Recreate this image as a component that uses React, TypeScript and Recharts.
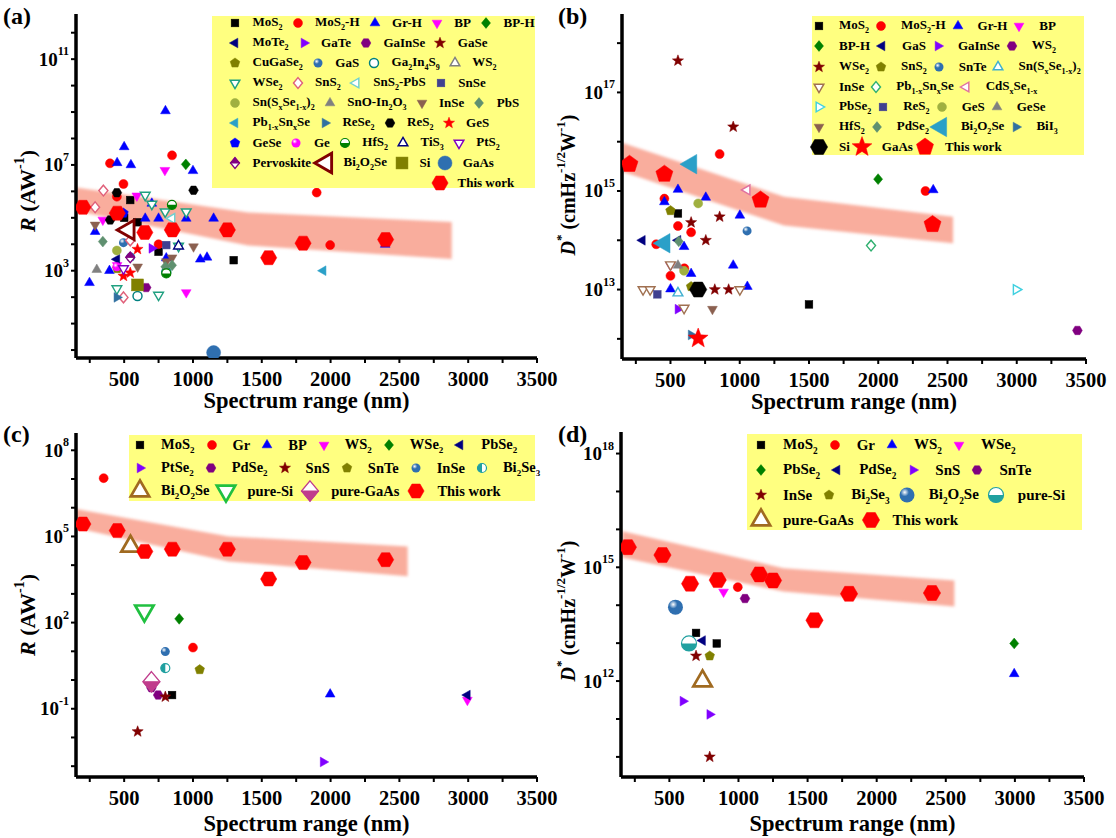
import React from "react";
import { ComposedChart, Scatter, Area, XAxis, YAxis } from "recharts";

type P = [number, number];

const FONT = '"Liberation Serif", "Times New Roman", Times, serif';
const YELLOW = "#ffff80";
const BAND = "#f4694c";

// shared x axis (nm)
const X_DOMAIN = [150, 3500];
const X_TICKS = [250, 500, 750, 1000, 1250, 1500, 1750, 2000, 2250, 2500, 2750, 3000, 3250, 3500];

// ---------- (a) responsivity R, all materials ----------
const A_Y_TICKS = [1, 10, 1e2, 1e3, 1e4, 1e5, 1e6, 1e7, 1e8, 1e9, 1e10, 1e11, 1e12];
const A_Y_LABELS = [3, 7, 11];
const A_BAND_X = [150, 1400, 2880];
const A_BAND_LO = [1.8e5, 9e3, 2.8e3];
const A_BAND_HI = [1.4e6, 1.6e5, 7e4];

const A_THIS: P[] = [[200, 2.5e5], [450, 1.5e5], [650, 2.8e4], [850, 3.5e4], [1250, 3.5e4], [1550, 3.1e3], [1800, 1.1e4], [2400, 1.5e4]];
const A_MOS2: P[] = [[544, 4.7e5], [500, 1e5], [597, 6.8e4], [750, 5.2e3], [1296, 2.5e3]];
const A_MOS2H: P[] = [[397, 1.15e7], [495, 1.9e6], [447, 6.3e5], [848, 2.3e7], [1899, 9e5], [1997, 9.3e3], [750, 1e4]];
const A_GRH: P[] = [[800, 1.1e9], [500, 4.8e7], [449, 1.2e7], [549, 1e7], [1000, 6e6], [701, 3.5e5], [653, 9.5e4], [750, 9.5e4], [951, 9.5e4], [1150, 9.5e4], [289, 3e4], [393, 1e3], [248, 3.5e2], [806, 3e3], [1053, 2.7e3], [1102, 3.2e3], [2397, 9.8e3]];
const A_BP: P[] = [[796, 6.3e6], [592, 6.8e5], [345, 8.3e4], [951, 1.5e2], [449, 1.6e3]];
const A_BPH: P[] = [[948, 1.05e7]];
const A_MOTE2: P[] = [[447, 2.7e3]];
const A_GATE: P[] = [[701, 7e3]];
const A_GAINSE: P[] = [[660, 2.3e2]];
const A_GASE: P[] = [];
const A_CUGASE2: P[] = [[450, 1.2e3]];
const A_GAS: P[] = [[495, 1.15e4], [547, 3.3e3]];
const A_GA2IN4S9: P[] = [[597, 1.1e2], [806, 9e2]];
const A_WS2: P[] = [];
const A_WSE2: P[] = [[653, 7.2e5], [701, 3.3e5], [798, 1.7e5], [951, 1.7e5], [447, 2.1e2], [750, 1.2e2], [895, 8.5e3]];
const A_SNS2: P[] = [[349, 1.07e6], [289, 2.5e5], [544, 1.4e4], [495, 98]];
const A_SNS2PBS: P[] = [[847, 9.5e4]];
const A_SNSE: P[] = [[806, 9.3e3]];
const A_SNSSE: P[] = [[447, 5.8e3], [848, 3e5]];
const A_SNOIN2O3: P[] = [[301, 1.1e3]];
const A_INSE: P[] = [[289, 5.4e4], [1004, 8.1e3], [598, 1.4e3], [848, 3.1e3], [806, 2.2e3]];
const A_PBS: P[] = [[345, 1.26e4], [799, 1.4e3], [848, 1.6e3]];
const A_PBSNSE: P[] = [[1946, 1e3]];
const A_RESE2: P[] = [[447, 98]];
const A_RES2: P[] = [[447, 8.9e5], [1004, 1.1e6], [398, 8.3e4]];
const A_GES: P[] = [[597, 6.5e3], [495, 6.3e2], [544, 8.3e2]];
const A_GESE: P[] = [[495, 1.5e5]];
const A_GE: P[] = [[447, 1.4e3]];
const A_HFS2: P[] = [[847, 3.1e5], [806, 7.9e2]];
const A_TIS3: P[] = [[895, 8.5e3]];
const A_PTS2: P[] = [[495, 1.2e3]];
const A_PERV: P[] = [[544, 3.2e3]];
const A_BI2O2SE: P[] = [[531, 3.5e4]];
const A_SI: P[] = [[597, 2.9e2]];
const A_GAAS: P[] = [[1150, 0.8]];

// ---------- (b) detectivity D*, all materials ----------
const B_Y_TICKS = [1e12, 1e13, 1e14, 1e15, 1e16, 1e17, 1e18];
const B_Y_LABELS = [13, 15, 17];
const B_BAND_X = [150, 1320, 2540];
const B_BAND_LO = [2.5e15, 2e14, 8.7e13];
const B_BAND_HI = [9.5e15, 7.6e14, 3e14];

const B_THIS: P[] = [[204, 3.5e15], [456, 2.2e15], [1150, 6.6e14], [2392, 2.1e14]];
const B_MOS2: P[] = [[554, 3.5e14], [1500, 5e12]];
const B_MOS2H: P[] = [[855, 5.6e15], [2341, 1e15], [456, 7e14], [554, 1.95e14], [649, 1.45e14], [397, 8.3e13], [500, 1.9e13], [600, 2.7e13]];
const B_GRH: P[] = [[554, 1.07e15], [456, 6e14], [755, 7.4e14], [1001, 3.2e14], [2397, 1.05e15], [598, 7.4e13], [649, 2.1e13], [500, 1.02e13], [953, 3.1e13], [1055, 1.15e13]];
const B_BP: P[] = [[500, 3.1e13]];
const B_BPH: P[] = [[1999, 1.74e15]];
const B_GAS: P[] = [[297, 1e14], [554, 1e14]];
const B_GAINSE: P[] = [[554, 4e12]];
const B_WS2: P[] = [[3438, 1.48e12]];
const B_WSE2: P[] = [[554, 4.4e17], [953, 2e16], [855, 3e14], [649, 2.3e14], [755, 1e14], [820, 1e13], [920, 1e13]];
const B_SNS2: P[] = [[500, 4e14], [649, 1.15e13]];
const B_SNTE: P[] = [[1053, 1.55e14]];
const B_SNSSE: P[] = [[554, 8.5e12]];
const B_INSE: P[] = [[302, 1e13], [353, 1e13], [500, 3.2e13], [598, 4.2e12], [1001, 1e13]];
const B_PBSNSE: P[] = [[1948, 7.8e13]];
const B_CDSSE: P[] = [[1053, 1.05e15]];
const B_PBSE2: P[] = [[2996, 1e13]];
const B_RES2: P[] = [[405, 8e12]];
const B_GES: P[] = [[700, 5.6e14], [598, 2.4e13]];
const B_GESE: P[] = [[554, 3.1e13]];
const B_HFS2: P[] = [[803, 4e12]];
const B_PDSE2: P[] = [[560, 9.5e13]];
const B_BI2O2SE: P[] = [[649, 3.5e15], [456, 8.7e13]];
const B_BII3: P[] = [[649, 1.2e12]];
const B_SI: P[] = [[700, 1e13]];
const B_GAAS: P[] = [[700, 1.02e12]];

// ---------- (c) responsivity R, broadband materials ----------
const C_Y_TICKS = [1e-3, 1e-2, 0.1, 1, 10, 1e2, 1e3, 1e4, 1e5, 1e6, 1e7, 1e8];
const C_Y_LABELS = [-1, 2, 5, 8];
const C_BAND_X = [150, 1260, 2560];
const C_BAND_LO = [1.95e5, 1.35e4, 4.1e3];
const C_BAND_HI = [9.1e5, 1e5, 4.5e4];

const C_THIS: P[] = [[200, 2.7e5], [450, 1.6e5], [650, 3e4], [850, 3.6e4], [1250, 3.6e4], [1550, 3.3e3], [1800, 1.23e4], [2400, 1.55e4]];
const C_MOS2: P[] = [[848, 0.3]];
const C_GR: P[] = [[351, 1.07e7], [1000, 13.5]];
const C_BP: P[] = [[1997, 0.32]];
const C_WS2: P[] = [[2994, 0.2]];
const C_WSE2: P[] = [[900, 135]];
const C_PBSE2: P[] = [[2994, 0.3]];
const C_PTSE2: P[] = [[1946, 1.4e-3]];
const C_PDSE2: P[] = [[747, 0.3], [698, 0.54]];
const C_SNS: P[] = [[799, 0.26], [598, 0.016]];
const C_SNTE: P[] = [[1049, 2.3]];
const C_INSE: P[] = [[799, 9.8]];
const C_BI2SE3: P[] = [[799, 2.6]];
const C_BI2O2SE: P[] = [[546, 4.5e4]];
const C_PURESI: P[] = [[647, 257]];
const C_PUREGAAS: P[] = [[698, 0.87]];

// ---------- (d) detectivity D*, broadband materials ----------
const D_Y_TICKS = [1e10, 1e11, 1e12, 1e13, 1e14, 1e15, 1e16, 1e17, 1e18];
const D_Y_LABELS = [12, 15, 18];
const D_BAND_X = [160, 1325, 2562];
const D_BAND_LO = [1.8e15, 2.3e14, 9.3e13];
const D_BAND_HI = [8.9e15, 9.5e14, 4.5e14];

const D_THIS: P[] = [[200, 3.4e15], [450, 2.1e15], [650, 3.7e14], [850, 4.6e14], [1150, 6.5e14], [1250, 4.5e14], [1550, 4e13], [1800, 2e14], [2400, 2.1e14]];
const D_MOS2: P[] = [[693, 1.86e13], [843, 9.8e12]];
const D_GR: P[] = [[995, 3e14]];
const D_WS2: P[] = [[2995, 1.55e12]];
const D_WSE2: P[] = [[892, 2.24e14]];
const D_PBSE2: P[] = [[2995, 9.8e12]];
const D_PDSE2: P[] = [[740, 1.17e13]];
const D_SNS: P[] = [[598, 2.95e11], [792, 1.32e11]];
const D_SNTE: P[] = [[1047, 1.5e14]];
const D_INSE: P[] = [[693, 4.6e12], [792, 1e10]];
const D_BI2SE3: P[] = [[792, 4.6e12]];
const D_BI2O2SE: P[] = [[544, 8.9e13]];
const D_PURESI: P[] = [[642, 9.8e12]];
const D_PUREGAAS: P[] = [[740, 1e12]];

type S = { n: string; d: P[]; k: string; c: string; o?: boolean; r?: number };

const A_SERIES: S[] = [
  { n: "MoS_2", d: A_MOS2, k: "sq", c: "#000000" },
  { n: "MoS_2-H", d: A_MOS2H, k: "ci", c: "#ff0000" },
  { n: "Gr-H", d: A_GRH, k: "tu", c: "#0000ff" },
  { n: "BP", d: A_BP, k: "td", c: "#ff00ff" },
  { n: "BP-H", d: A_BPH, k: "di", c: "#008000" },
  { n: "MoTe_2", d: A_MOTE2, k: "tl", c: "#000080" },
  { n: "GaTe", d: A_GATE, k: "tr", c: "#8000ff" },
  { n: "GaInSe", d: A_GAINSE, k: "hx", c: "#800080" },
  { n: "GaSe", d: A_GASE, k: "st", c: "#800000" },
  { n: "CuGaSe_2", d: A_CUGASE2, k: "pe", c: "#808000" },
  { n: "GaS", d: A_GAS, k: "sp", c: "#2f6fb0" },
  { n: "Ga_2In_4S_9", d: A_GA2IN4S9, k: "ci", c: "#008080", o: true },
  { n: "WS_2", d: A_WS2, k: "tu", c: "#808080", o: true },
  { n: "WSe_2", d: A_WSE2, k: "td", c: "#20a080", o: true },
  { n: "SnS_2", d: A_SNS2, k: "di", c: "#e0607a", o: true },
  { n: "SnS_2-PbS", d: A_SNS2PBS, k: "tl", c: "#70d0d0", o: true },
  { n: "SnSe", d: A_SNSE, k: "sq", c: "#404090" },
  { n: "Sn(S_xSe_{1-x})_2", d: A_SNSSE, k: "ci", c: "#a0b040" },
  { n: "SnO-In_2O_3", d: A_SNOIN2O3, k: "tu", c: "#808080" },
  { n: "InSe", d: A_INSE, k: "td", c: "#8b6050" },
  { n: "PbS", d: A_PBS, k: "di", c: "#5f9070" },
  { n: "Pb_{1-x}Sn_xSe", d: A_PBSNSE, k: "tl", c: "#2aa0c8" },
  { n: "ReSe_2", d: A_RESE2, k: "tr", c: "#3070a0" },
  { n: "ReS_2", d: A_RES2, k: "hx", c: "#000000" },
  { n: "GeS", d: A_GES, k: "st", c: "#ff0000" },
  { n: "GeSe", d: A_GESE, k: "pe", c: "#0000ff" },
  { n: "Ge", d: A_GE, k: "sp", c: "#ff00ff" },
  { n: "HfS_2", d: A_HFS2, k: "hc", c: "#008000" },
  { n: "TiS_3", d: A_TIS3, k: "tu", c: "#000080", o: true },
  { n: "PtS_2", d: A_PTS2, k: "td", c: "#8000c0", o: true },
  { n: "Pervoskite", d: A_PERV, k: "hd", c: "#800080" },
  { n: "Bi_2O_2Se", d: A_BI2O2SE, k: "tl", c: "#800000", o: true, r: 9 },
  { n: "Si", d: A_SI, k: "sq", c: "#808000", r: 7 },
  { n: "GaAs", d: A_GAAS, k: "ci", c: "#2f6fb0", r: 7 },
  { n: "This work", d: A_THIS, k: "hx", c: "#ff0000", r: 7.5 },
];

const B_SERIES: S[] = [
  { n: "MoS_2", d: B_MOS2, k: "sq", c: "#000000" },
  { n: "MoS_2-H", d: B_MOS2H, k: "ci", c: "#ff0000" },
  { n: "Gr-H", d: B_GRH, k: "tu", c: "#0000ff" },
  { n: "BP", d: B_BP, k: "td", c: "#ff00ff" },
  { n: "BP-H", d: B_BPH, k: "di", c: "#008000" },
  { n: "GaS", d: B_GAS, k: "tl", c: "#000080" },
  { n: "GaInSe", d: B_GAINSE, k: "tr", c: "#8000ff" },
  { n: "WS_2", d: B_WS2, k: "hx", c: "#800080" },
  { n: "WSe_2", d: B_WSE2, k: "st", c: "#800000" },
  { n: "SnS_2", d: B_SNS2, k: "pe", c: "#808000" },
  { n: "SnTe", d: B_SNTE, k: "sp", c: "#2f6fb0" },
  { n: "Sn(S_xSe_{1-x})_2", d: B_SNSSE, k: "tu", c: "#40b0d0", o: true },
  { n: "InSe", d: B_INSE, k: "td", c: "#a07050", o: true },
  { n: "Pb_{1-x}Sn_xSe", d: B_PBSNSE, k: "di", c: "#30b070", o: true },
  { n: "CdS_xSe_{1-x}", d: B_CDSSE, k: "tl", c: "#e070a0", o: true },
  { n: "PbSe_2", d: B_PBSE2, k: "tr", c: "#40d0e0", o: true },
  { n: "ReS_2", d: B_RES2, k: "sq", c: "#404090" },
  { n: "GeS", d: B_GES, k: "ci", c: "#a0b040" },
  { n: "GeSe", d: B_GESE, k: "tu", c: "#808080" },
  { n: "HfS_2", d: B_HFS2, k: "td", c: "#8b6050" },
  { n: "PdSe_2", d: B_PDSE2, k: "di", c: "#5f9070" },
  { n: "Bi_2O_2Se", d: B_BI2O2SE, k: "tl", c: "#2aa0c8", r: 9 },
  { n: "BiI_3", d: B_BII3, k: "tr", c: "#3070a0" },
  { n: "Si", d: B_SI, k: "hx", c: "#000000", r: 8 },
  { n: "GaAs", d: B_GAAS, k: "st", c: "#ff0000", r: 8 },
  { n: "This work", d: B_THIS, k: "pe", c: "#ff0000", r: 8 },
];

const C_SERIES: S[] = [
  { n: "MoS_2", d: C_MOS2, k: "sq", c: "#000000" },
  { n: "Gr", d: C_GR, k: "ci", c: "#ff0000" },
  { n: "BP", d: C_BP, k: "tu", c: "#0000ff" },
  { n: "WS_2", d: C_WS2, k: "td", c: "#ff00ff" },
  { n: "WSe_2", d: C_WSE2, k: "di", c: "#008000" },
  { n: "PbSe_2", d: C_PBSE2, k: "tl", c: "#000080" },
  { n: "PtSe_2", d: C_PTSE2, k: "tr", c: "#8000ff" },
  { n: "PdSe_2", d: C_PDSE2, k: "hx", c: "#800080" },
  { n: "SnS", d: C_SNS, k: "st", c: "#800000" },
  { n: "SnTe", d: C_SNTE, k: "pe", c: "#808000" },
  { n: "InSe", d: C_INSE, k: "sp", c: "#2f6fb0" },
  { n: "Bi_2Se_3", d: C_BI2SE3, k: "hcl", c: "#20a0a0" },
  { n: "Bi_2O_2Se", d: C_BI2O2SE, k: "tu", c: "#a06a20", o: true, r: 8.5 },
  { n: "pure-Si", d: C_PURESI, k: "td", c: "#20c040", o: true, r: 8.5 },
  { n: "pure-GaAs", d: C_PUREGAAS, k: "hdb", c: "#c03c8c", r: 8.5 },
  { n: "This work", d: C_THIS, k: "hx", c: "#ff0000", r: 7.5 },
];

const D_SERIES: S[] = [
  { n: "MoS_2", d: D_MOS2, k: "sq", c: "#000000" },
  { n: "Gr", d: D_GR, k: "ci", c: "#ff0000" },
  { n: "WS_2", d: D_WS2, k: "tu", c: "#0000ff" },
  { n: "WSe_2", d: D_WSE2, k: "td", c: "#ff00ff" },
  { n: "PbSe_2", d: D_PBSE2, k: "di", c: "#008000" },
  { n: "PdSe_2", d: D_PDSE2, k: "tl", c: "#000080" },
  { n: "SnS", d: D_SNS, k: "tr", c: "#8000ff" },
  { n: "SnTe", d: D_SNTE, k: "hx", c: "#800080" },
  { n: "InSe", d: D_INSE, k: "st", c: "#800000" },
  { n: "Bi_2Se_3", d: D_BI2SE3, k: "pe", c: "#808000" },
  { n: "Bi_2O_2Se", d: D_BI2O2SE, k: "sp", c: "#2f6fb0", r: 7.5 },
  { n: "pure-Si", d: D_PURESI, k: "hc", c: "#20a0a0", r: 7.5 },
  { n: "pure-GaAs", d: D_PUREGAAS, k: "tu", c: "#a06a20", o: true, r: 8.5 },
  { n: "This work", d: D_THIS, k: "hx", c: "#ff0000", r: 8 },
];

const A_LEGEND = [
  ["MoS_2", "MoS_2-H", "Gr-H", "BP", "BP-H"],
  ["MoTe_2", "GaTe", "GaInSe", "GaSe"],
  ["CuGaSe_2", "GaS", "Ga_2In_4S_9", "WS_2"],
  ["WSe_2", "SnS_2", "SnS_2-PbS", "SnSe"],
  ["Sn(S_xSe_{1-x})_2", "SnO-In_2O_3", "InSe", "PbS"],
  ["Pb_{1-x}Sn_xSe", "ReSe_2", "ReS_2", "GeS"],
  ["GeSe", "Ge", "HfS_2", "TiS_3", "PtS_2"],
  ["Pervoskite", "Bi_2O_2Se", "Si", "GaAs"],
  ["This work"],
];
const B_LEGEND = [
  ["MoS_2", "MoS_2-H", "Gr-H", "BP"],
  ["BP-H", "GaS", "GaInSe", "WS_2"],
  ["WSe_2", "SnS_2", "SnTe", "Sn(S_xSe_{1-x})_2"],
  ["InSe", "Pb_{1-x}Sn_xSe", "CdS_xSe_{1-x}"],
  ["PbSe_2", "ReS_2", "GeS", "GeSe"],
  ["HfS_2", "PdSe_2", "Bi_2O_2Se", "BiI_3"],
  ["Si", "GaAs", "This work"],
];
const C_LEGEND = [
  ["MoS_2", "Gr", "BP", "WS_2", "WSe_2", "PbSe_2"],
  ["PtSe_2", "PdSe_2", "SnS", "SnTe", "InSe", "Bi_2Se_3"],
  ["Bi_2O_2Se", "pure-Si", "pure-GaAs", "This work"],
];
const D_LEGEND = [
  ["MoS_2", "Gr", "WS_2", "WSe_2"],
  ["PbSe_2", "PdSe_2", "SnS", "SnTe"],
  ["InSe", "Bi_2Se_3", "Bi_2O_2Se", "pure-Si"],
  ["pure-GaAs", "This work"],
];

function poly(x: number, y: number, n: number, R: number, a0: number) {
  const pts: string[] = [];
  for (let i = 0; i < n; i++) {
    const a = ((a0 + (360 / n) * i) * Math.PI) / 180;
    pts.push(`${x + R * Math.cos(a)},${y + R * Math.sin(a)}`);
  }
  return pts.join(" ");
}

function Mk({ x, y, k, c, r = 4.5, o = false }: { x: number; y: number; k: string; c: string; r?: number; o?: boolean }) {
  if (x == null || y == null) return null;
  const common = { fill: o ? "#fff" : c, stroke: c, strokeWidth: o ? Math.max(1.4, r * 0.32) : 0.5 };
  switch (k) {
    case "sq":
      return <rect x={x - r * 0.85} y={y - r * 0.85} width={r * 1.7} height={r * 1.7} {...common} />;
    case "ci":
      return <circle cx={x} cy={y} r={r} {...common} />;
    case "tu":
      return <polygon points={poly(x, y, 3, r * 1.25, -90)} {...common} />;
    case "td":
      return <polygon points={poly(x, y, 3, r * 1.25, 90)} {...common} />;
    case "tl":
      return <polygon points={poly(x, y, 3, r * 1.25, 180)} {...common} />;
    case "tr":
      return <polygon points={poly(x, y, 3, r * 1.25, 0)} {...common} />;
    case "di":
      return <polygon points={`${x},${y - r * 1.2} ${x + r},${y} ${x},${y + r * 1.2} ${x - r},${y}`} {...common} />;
    case "hx":
      return <polygon points={poly(x, y, 6, r * 1.08, 0)} {...common} />;
    case "pe":
      return <polygon points={poly(x, y, 5, r * 1.12, -90)} {...common} />;
    case "st": {
      const pts: string[] = [];
      for (let i = 0; i < 10; i++) {
        const a = ((-90 + 36 * i) * Math.PI) / 180;
        const R = i % 2 === 0 ? r * 1.3 : r * 0.55;
        pts.push(`${x + R * Math.cos(a)},${y + R * Math.sin(a)}`);
      }
      return <polygon points={pts.join(" ")} {...common} />;
    }
    case "sp": {
      const id = "sph" + c.slice(1);
      return (
        <g>
          <defs>
            <radialGradient id={id} cx="35%" cy="32%" r="70%">
              <stop offset="0%" stopColor="#ffffff" />
              <stop offset="40%" stopColor={c} />
              <stop offset="100%" stopColor={c} />
            </radialGradient>
          </defs>
          <circle cx={x} cy={y} r={r} fill={`url(#${id})`} />
        </g>
      );
    }
    case "hc":
      return (
        <g>
          <circle cx={x} cy={y} r={r} fill="#fff" stroke={c} strokeWidth={1.2} />
          <path d={`M ${x - r} ${y} A ${r} ${r} 0 0 0 ${x + r} ${y} Z`} fill={c} />
        </g>
      );
    case "hcl":
      return (
        <g>
          <circle cx={x} cy={y} r={r} fill="#fff" stroke={c} strokeWidth={1.2} />
          <path d={`M ${x} ${y - r} A ${r} ${r} 0 0 0 ${x} ${y + r} Z`} fill={c} />
        </g>
      );
    case "hd":
    case "hdb": {
      const h = r * 1.2;
      const half = k === "hd" ? `${x - r},${y} ${x},${y - h} ${x + r},${y}` : `${x - r},${y} ${x},${y + h} ${x + r},${y}`;
      return (
        <g>
          <polygon points={`${x},${y - h} ${x + r},${y} ${x},${y + h} ${x - r},${y}`} fill="#fff" stroke={c} strokeWidth={1.3} />
          <polygon points={half} fill={c} stroke={c} strokeWidth={1} />
        </g>
      );
    }
    default:
      return <circle cx={x} cy={y} r={r} {...common} />;
  }
}

function rich(s: string, fs: number) {
  const out: React.ReactNode[] = [];
  let buf = "";
  let i = 0;
  while (i < s.length) {
    if (s[i] === "_") {
      if (buf) out.push(buf);
      buf = "";
      let sub = "";
      if (s[i + 1] === "{") {
        const j = s.indexOf("}", i);
        sub = s.slice(i + 2, j);
        i = j + 1;
      } else {
        sub = s[i + 1];
        i += 2;
      }
      out.push(
        <span key={i} style={{ fontSize: fs * 0.62, position: "relative", top: fs * 0.3 }}>
          {sub}
        </span>
      );
    } else {
      buf += s[i];
      i++;
    }
  }
  if (buf) out.push(buf);
  return out;
}

function YTick(props: any) {
  const { x, y, payload, labels } = props;
  const e = Math.round(Math.log10(payload.value));
  if (!labels.includes(e)) return <g />;
  return (
    <text x={x} y={y} textAnchor="end" dominantBaseline="central" fontFamily={FONT} fontWeight="bold" fontSize={19} fill="#000">
      10<tspan dy={-8} fontSize={12}>{e}</tspan>
    </text>
  );
}

type Leg = { rows: string[][]; box: number[]; rowYs: number[]; starts: number[]; fs: number; toText: number; gap: number };

function Legend({ leg, series }: { leg: Leg; series: S[] }) {
  const symW = 12;
  const [bl, bt, br, bb] = leg.box;
  return (
    <div style={{ position: "absolute", left: bl, top: bt, width: br - bl, height: bb - bt, background: YELLOW }}>
      {leg.rows.map((row, ri) => (
        <div
          key={ri}
          style={{ position: "absolute", left: leg.starts[ri] - bl - symW / 2, top: leg.rowYs[ri] - bt - 10, height: 20, display: "flex", alignItems: "center", whiteSpace: "nowrap" }}
        >
          {row.map((name) => {
            const s = series.find((q) => q.n === name)!;
            return (
              <div key={name} style={{ display: "flex", alignItems: "center", marginRight: leg.gap - symW / 2 }}>
                <svg width={symW} height={20} style={{ overflow: "visible", flex: "none" }}>
                  <Mk x={symW / 2} y={10} k={s.k} c={s.c} r={s.r} o={s.o} />
                </svg>
                <span style={{ marginLeft: leg.toText - symW / 2, fontFamily: FONT, fontWeight: "bold", fontSize: leg.fs, lineHeight: "20px", color: "#000" }}>
                  {rich(name, leg.fs)}
                </span>
              </div>
            );
          })}
        </div>
      ))}
    </div>
  );
}

type PanelProps = {
  tag: string;
  left: number;
  top: number;
  plot: { l: number; t: number; r: number; b: number };
  yDomain: number[];
  yTicks: number[];
  yLabels: number[];
  bandX: number[];
  bandLo: number[];
  bandHi: number[];
  series: S[];
  leg: Leg;
  yTitle: "R" | "D";
  yTitlePos: number[];
  titleDy: number;
};

const W = 575;
const H = 415;

function Panel(p: PanelProps) {
  const band = p.bandX.map((x, i) => ({ x, band: [p.bandLo[i], p.bandHi[i]] }));
  const frame = { stroke: "#000", strokeWidth: 3.5 };
  const [tx, ty] = p.yTitlePos;
  return (
    <div style={{ position: "absolute", left: p.left, top: p.top, width: W, height: H }}>
      <ComposedChart width={W} height={H} data={band} margin={{ top: p.plot.t, right: W - p.plot.r, bottom: 0, left: 0 }}>
        <XAxis
          dataKey="x"
          type="number"
          domain={X_DOMAIN}
          ticks={X_TICKS}
          interval={0}
          allowDataOverflow
          height={H - p.plot.b}
          tickSize={5}
          tickMargin={8}
          axisLine={frame}
          tickLine={{ stroke: "#000", strokeWidth: 2 }}
          tick={{ fontFamily: FONT, fontWeight: "bold", fontSize: 20.5, fill: "#000" }}
          tickFormatter={(v: number) => (v % 500 === 0 ? String(v) : "")}
        />
        <XAxis xAxisId="top" orientation="top" type="number" domain={X_DOMAIN} height={0} tick={false} tickLine={false} axisLine={frame} />
        <YAxis
          dataKey="y"
          type="number"
          scale="log"
          domain={p.yDomain}
          ticks={p.yTicks}
          interval={0}
          allowDataOverflow
          width={p.plot.l}
          tickSize={5}
          tickMargin={2}
          axisLine={frame}
          tickLine={{ stroke: "#000", strokeWidth: 2 }}
          tick={(tp: any) => <YTick {...tp} labels={p.yLabels} />}
        />
        <YAxis yAxisId="right" orientation="right" type="number" domain={[0, 1]} width={0} tick={false} tickLine={false} axisLine={frame} />
        <Area className="band" type="linear" dataKey="band" stroke="none" fill={BAND} fillOpacity={0.55} isAnimationActive={false} />
        {p.series.map((s) => (
          <Scatter
            key={s.n}
            data={s.d.map(([x, y]) => ({ x, y }))}
            dataKey="y"
            isAnimationActive={false}
            shape={(sp: any) => <Mk x={sp.cx} y={sp.cy} k={s.k} c={s.c} r={s.r} o={s.o} />}
          />
        ))}
      </ComposedChart>
      <Legend leg={p.leg} series={p.series} />
      <svg width={W} height={H + 3} style={{ position: "absolute", left: 0, top: 0, overflow: "visible", pointerEvents: "none" }}>
        <text x={3} y={24} fontFamily={FONT} fontWeight="bold" fontSize={24} fill="#000">
          {p.tag}
        </text>
        <text x={(p.plot.l + p.plot.r) / 2} y={p.plot.b + p.titleDy} textAnchor="middle" fontFamily={FONT} fontWeight="bold" fontSize={22.5} fill="#000">
          Spectrum range (nm)
        </text>
        {p.yTitle === "R" ? (
          <text transform={`rotate(-90 ${tx} ${ty})`} x={tx} y={ty} textAnchor="middle" dominantBaseline="central" fontFamily={FONT} fontWeight="bold" fontSize={22} fill="#000">
            <tspan fontStyle="italic">R</tspan> (AW<tspan dy={-8} fontSize={14}>-1</tspan>
            <tspan dy={8}>)</tspan>
          </text>
        ) : (
          <text transform={`rotate(-90 ${tx} ${ty})`} x={tx} y={ty} textAnchor="middle" dominantBaseline="central" fontFamily={FONT} fontWeight="bold" fontSize={20} fill="#000">
            <tspan fontStyle="italic">D</tspan>
            <tspan dy={-8} fontSize={13}>*</tspan>
            <tspan dy={8}> (cmHz</tspan>
            <tspan dy={-8} fontSize={13}>-1/2</tspan>
            <tspan dy={8}>W</tspan>
            <tspan dy={-8} fontSize={13}>-1</tspan>
            <tspan dy={8}>)</tspan>
          </text>
        )}
      </svg>
    </div>
  );
}

export default function App() {
  return (
    <div style={{ position: "absolute", left: 0, top: 0, width: 1116, height: 838, background: "#fff", overflow: "hidden" }}>
      <style>{`.band path { filter: blur(1.6px); }`}</style>
      <Panel
        tag="(a)"
        left={0}
        top={0}
        plot={{ l: 76, t: 14, r: 537, b: 358 }}
        yDomain={[0.5, 5.1e12]}
        yTicks={A_Y_TICKS}
        yLabels={A_Y_LABELS}
        bandX={A_BAND_X}
        bandLo={A_BAND_LO}
        bandHi={A_BAND_HI}
        series={A_SERIES}
        leg={{ rows: A_LEGEND, box: [212, 16, 535, 188], rowYs: [23.3, 43.3, 63.3, 83, 103, 123, 143, 163, 182.7], starts: [235, 235, 235, 235, 235, 235, 235, 235, 440], fs: 13, toText: 17.5, gap: 15 }}
        yTitle="R"
        yTitlePos={[27, 191]}
        titleDy={50}
      />
      <Panel
        tag="(b)"
        left={555}
        top={0}
        plot={{ l: 67, t: 14, r: 531, b: 359 }}
        yDomain={[3.9e11, 3.9e18]}
        yTicks={B_Y_TICKS}
        yLabels={B_Y_LABELS}
        bandX={B_BAND_X}
        bandLo={B_BAND_LO}
        bandHi={B_BAND_HI}
        series={B_SERIES}
        leg={{ rows: B_LEGEND, box: [257, 16, 529, 155], rowYs: [26, 46, 66.7, 86.7, 106.7, 126.7, 146.7], starts: [264, 264, 264, 264, 264, 264, 264], fs: 13, toText: 20, gap: 12 }}
        yTitle="D"
        yTitlePos={[13, 185]}
        titleDy={50}
      />
      <Panel
        tag="(c)"
        left={0}
        top={418}
        plot={{ l: 76, t: 15, r: 537, b: 359 }}
        yDomain={[4.2e-4, 4e8]}
        yTicks={C_Y_TICKS}
        yLabels={C_Y_LABELS}
        bandX={C_BAND_X}
        bandLo={C_BAND_LO}
        bandHi={C_BAND_HI}
        series={C_SERIES}
        leg={{ rows: C_LEGEND, box: [129, 17, 535, 83], rowYs: [26.7, 50, 72.7], starts: [140, 140, 140], fs: 14.5, toText: 21, gap: 17 }}
        yTitle="R"
        yTitlePos={[27, 197]}
        titleDy={54}
      />
      <Panel
        tag="(d)"
        left={555}
        top={418}
        plot={{ l: 66, t: 14, r: 529, b: 359 }}
        yDomain={[2.95e9, 3.7e18]}
        yTicks={D_Y_TICKS}
        yLabels={D_Y_LABELS}
        bandX={D_BAND_X}
        bandLo={D_BAND_LO}
        bandHi={D_BAND_HI}
        series={D_SERIES}
        leg={{ rows: D_LEGEND, box: [192, 16, 527, 112], rowYs: [27.3, 52.3, 77.3, 101.7], starts: [206, 206, 206, 206], fs: 15, toText: 22, gap: 17 }}
        yTitle="D"
        yTitlePos={[13, 193]}
        titleDy={54}
      />
    </div>
  );
}
